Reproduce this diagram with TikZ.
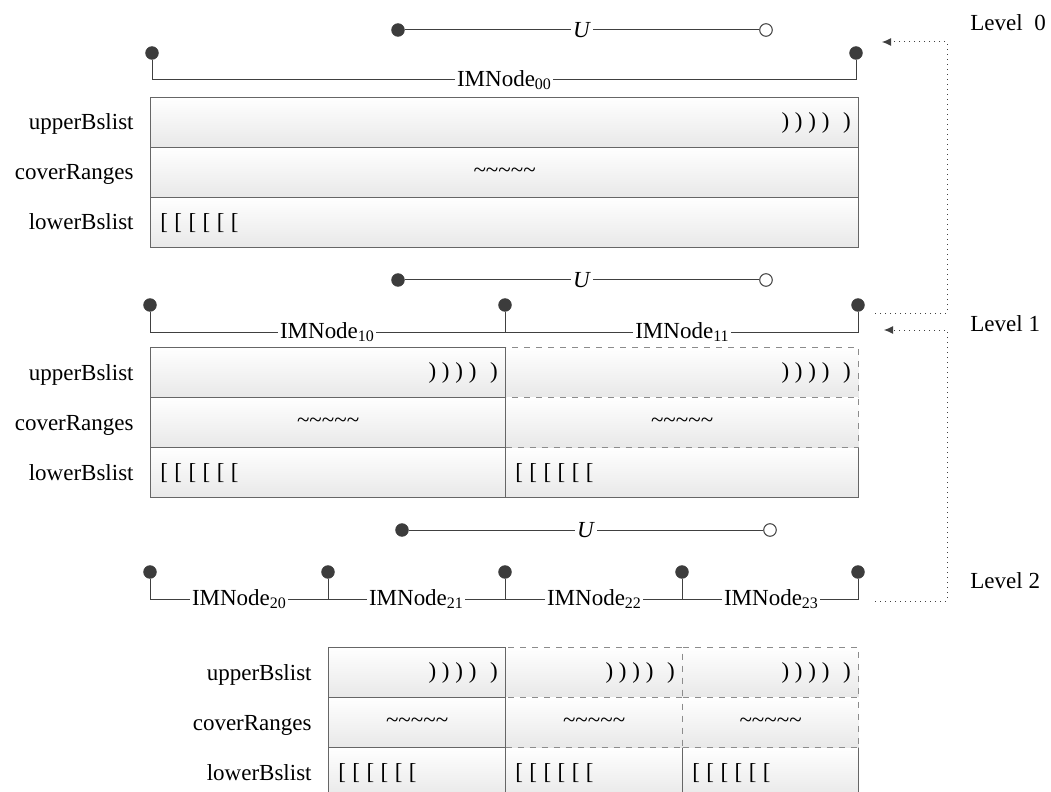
\documentclass[tikz,border=0pt]{standalone}
\usepackage{fontspec}
\setmainfont{Liberation Serif}
\usetikzlibrary{arrows.meta}
\definecolor{linec}{HTML}{404040}
\definecolor{dotc}{HTML}{3C3C3C}
\definecolor{boxc}{HTML}{666666}
\definecolor{dashc}{HTML}{8C8C8C}
\newcommand\myparens{)\hspace{0.25em})\hspace{0.25em})\hspace{0.25em})\hspace{0.6em})}
\newcommand\mybrackets{[\hspace{0.28em}[\hspace{0.28em}[\hspace{0.28em}[\hspace{0.28em}[\hspace{0.28em}[}
\newcommand\mytildes{\textasciitilde\textasciitilde\textasciitilde\textasciitilde\textasciitilde}
\newcommand\mysub[1]{\raisebox{-0.3ex}{\fontsize{8pt}{9pt}\selectfont #1}}
\begin{document}
\begin{tikzpicture}[x=0.5pt,y=-0.5pt,
  every node/.style={font=\fontsize{11.5pt}{13pt}\selectfont},
  cell/.style={draw=boxc, line width=0.65pt, top color=white, bottom color=black!9, minimum height=25pt, inner sep=0pt, anchor=north west},
  dcell/.style={cell, draw=dashc, dashed},
  pin/.style={circle, fill=dotc, draw=dotc, minimum size=6.3pt, inner sep=0pt},
  opin/.style={circle, fill=white, draw=linec, line width=0.5pt, minimum size=6.3pt, inner sep=0pt},
  wire/.style={draw=linec, line width=0.5pt},
  lbl/.style={inner sep=1pt},
  rowlbl/.style={anchor=base east, inner sep=0pt},
  lvl/.style={anchor=west, inner sep=0pt},
  flow/.style={draw=linec, dotted, line width=0.5pt, -{Latex[length=4.5pt,width=4pt]}},
  rp/.style={anchor=east, inner sep=0pt},
  lb/.style={anchor=west, inner sep=0pt},
  tl/.style={inner sep=0pt}
]
\useasboundingbox (0,0) rectangle (1051,792);

% ---------------- Level 0 ----------------
\node[pin] (ua0) at (398,30) {};
\node[opin] (uo0) at (766,30) {};
\node[lbl] (U0) at (582,30) {\textit{U}};
\draw[wire] (ua0) -- (U0) -- (uo0);

\node[pin] (d00a) at (152,53) {};
\node[pin] (d00b) at (856,53) {};
\node[lbl] (n00) at (504,80) {IMNode\mysub{00}};
\draw[wire] (d00a) |- (n00.west);
\draw[wire] (n00.east) -| (d00b);

\node[cell, minimum width=354pt] (c0u) at (150,97) {};
\node[cell, minimum width=354pt] (c0c) at (150,147) {};
\node[cell, minimum width=354pt] (c0l) at (150,197) {};
\node[rowlbl] (r0u) at (134,130) {upperBslist};
\node[rowlbl] (r0c) at (134,180) {coverRanges};
\node[rowlbl] (r0l) at (134,230) {lowerBslist};
\node[rp] (p0) at ([xshift=-4pt]c0u.east) {\myparens};
\node[tl] (t0) at (c0c.center) {\mytildes};
\node[lb] (b0) at ([xshift=5pt]c0l.west) {\mybrackets};

% ---------------- Level 1 ----------------
\node[pin] (ua1) at (398,280) {};
\node[opin] (uo1) at (766,280) {};
\node[lbl] (U1) at (582,280) {\textit{U}};
\draw[wire] (ua1) -- (U1) -- (uo1);

\node[pin] (d10) at (150,305) {};
\node[pin] (d11) at (505,305) {};
\node[pin] (d12) at (858,305) {};
\node[lbl] (n10) at (327,332) {IMNode\mysub{10}};
\node[lbl] (n11) at (682,332) {IMNode\mysub{11}};
\draw[wire] (d10) |- (n10.west);
\draw[wire] (n10.east) -| (d11);
\draw[wire] (d11) |- (n11.west);
\draw[wire] (n11.east) -| (d12);

\node[cell, minimum width=177.5pt] (c1l0) at (150,447) {};
\node[cell, minimum width=176.5pt] (c1l1) at (505,447) {};
\node[dcell, minimum width=176.5pt] (c1u1) at (505,347) {};
\node[dcell, minimum width=176.5pt] (c1c1) at (505,397) {};
\node[cell, minimum width=177.5pt] (c1u0) at (150,347) {};
\node[cell, minimum width=177.5pt] (c1c0) at (150,397) {};
\node[rowlbl] (r1u) at (134,380) {upperBslist};
\node[rowlbl] (r1c) at (134,430) {coverRanges};
\node[rowlbl] (r1l) at (134,480) {lowerBslist};
\node[rp] (p10) at ([xshift=-4pt]c1u0.east) {\myparens};
\node[rp] (p11) at ([xshift=-4pt]c1u1.east) {\myparens};
\node[tl] (t10) at (c1c0.center) {\mytildes};
\node[tl] (t11) at (c1c1.center) {\mytildes};
\node[lb] (b10) at ([xshift=5pt]c1l0.west) {\mybrackets};
\node[lb] (b11) at ([xshift=5pt]c1l1.west) {\mybrackets};

% ---------------- Level 2 ----------------
\node[pin] (ua2) at (402,530) {};
\node[opin] (uo2) at (770,530) {};
\node[lbl] (U2) at (586,530) {\textit{U}};
\draw[wire] (ua2) -- (U2) -- (uo2);

\node[pin] (d20) at (150,572) {};
\node[pin] (d21) at (328,572) {};
\node[pin] (d22) at (505,572) {};
\node[pin] (d23) at (682,572) {};
\node[pin] (d24) at (858,572) {};
\node[lbl] (n20) at (239,599) {IMNode\mysub{20}};
\node[lbl] (n21) at (416,599) {IMNode\mysub{21}};
\node[lbl] (n22) at (594,599) {IMNode\mysub{22}};
\node[lbl] (n23) at (771,599) {IMNode\mysub{23}};
\draw[wire] (d20) |- (n20.west);
\draw[wire] (n20.east) -| (d21);
\draw[wire] (d21) |- (n21.west);
\draw[wire] (n21.east) -| (d22);
\draw[wire] (d22) |- (n22.west);
\draw[wire] (n22.east) -| (d23);
\draw[wire] (d23) |- (n23.west);
\draw[wire] (n23.east) -| (d24);

\node[cell, minimum width=88.5pt] (c2l0) at (328,747) {};
\node[cell, minimum width=88.5pt] (c2l1) at (505,747) {};
\node[cell, minimum width=88pt] (c2l2) at (682,747) {};
\node[dcell, minimum width=88.5pt] (c2u1) at (505,647) {};
\node[dcell, minimum width=88.5pt] (c2c1) at (505,697) {};
\node[dcell, minimum width=88pt] (c2u2) at (682,647) {};
\node[dcell, minimum width=88pt] (c2c2) at (682,697) {};
\node[cell, minimum width=88.5pt] (c2u0) at (328,647) {};
\node[cell, minimum width=88.5pt] (c2c0) at (328,697) {};
\node[rowlbl] (r2u) at (312,680) {upperBslist};
\node[rowlbl] (r2c) at (312,730) {coverRanges};
\node[rowlbl] (r2l) at (312,780) {lowerBslist};
\node[rp] (p20) at ([xshift=-4pt]c2u0.east) {\myparens};
\node[rp] (p21) at ([xshift=-4pt]c2u1.east) {\myparens};
\node[rp] (p22) at ([xshift=-4pt]c2u2.east) {\myparens};
\node[tl] (t20) at (c2c0.center) {\mytildes};
\node[tl] (t21) at (c2c1.center) {\mytildes};
\node[tl] (t22) at (c2c2.center) {\mytildes};
\node[lb] (b20) at ([xshift=5pt]c2l0.west) {\mybrackets};
\node[lb] (b21) at ([xshift=5pt]c2l1.west) {\mybrackets};
\node[lb] (b22) at ([xshift=5pt]c2l2.west) {\mybrackets};

% ---------------- Levels and feedback arrows ----------------
\node[lvl] (L0) at (970,23) {Level\ \ 0};
\node[lvl] (L1) at (970,324) {Level 1};
\node[lvl] (L2) at (970,581) {Level 2};

\coordinate (f1s) at (875,313);
\coordinate (f1e) at (882,42);
\draw[flow] (f1s) -- (947,313) |- (f1e);
\coordinate (f2s) at (875,601);
\coordinate (f2e) at (884,330);
\draw[flow] (f2s) -- (947,601) |- (f2e);
\end{tikzpicture}
\end{document}
